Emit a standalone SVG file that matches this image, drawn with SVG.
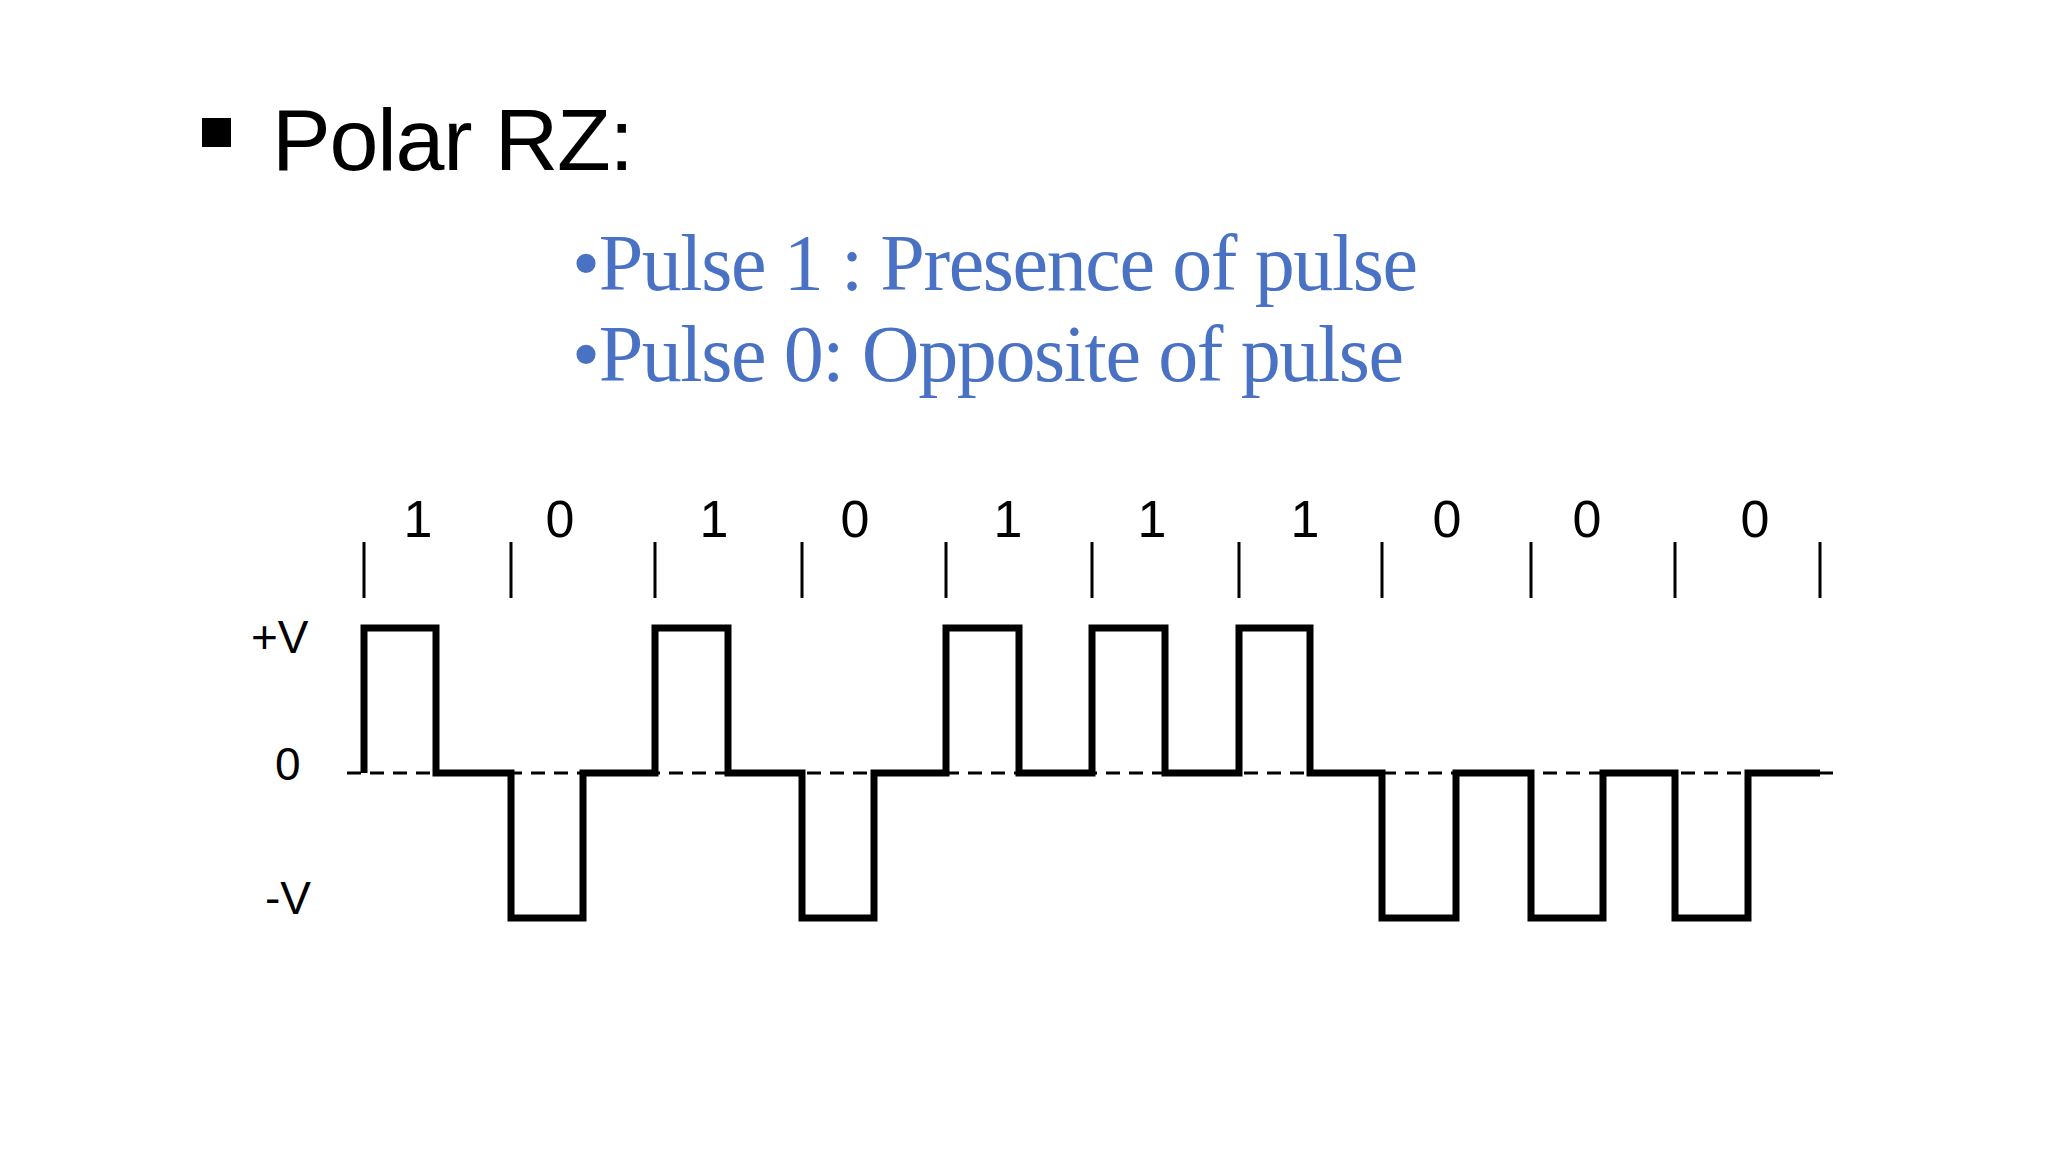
<svg xmlns="http://www.w3.org/2000/svg" width="2048" height="1152" viewBox="0 0 2048 1152">
<style>
.sig{fill:none;stroke:#000;stroke-width:7;stroke-linejoin:miter}
.tick{stroke:#000;stroke-width:3}
.lab{font-family:"Liberation Sans",Arial,sans-serif;font-size:46px;fill:#000}
.bit{font-family:"Liberation Sans",Arial,sans-serif;font-size:52px;fill:#000;text-anchor:middle}
.blue{font-family:"Liberation Serif","Times New Roman",serif;font-size:80px;fill:#4a72c4}
</style>
<rect width="2048" height="1152" fill="#fff"/>
<g id="title">
<rect x="202" y="118" width="29" height="29" fill="#000"/>
<text x="272" y="170" font-family="Liberation Sans,Arial,sans-serif" font-size="88" textLength="362">Polar RZ:</text>
</g>
<g id="bullets">
<text class="blue" x="572" y="290" textLength="846">•Pulse 1 : Presence of pulse</text>
<text class="blue" x="572" y="381" textLength="832">•Pulse 0: Opposite of pulse</text>
</g>
<g id="axis-labels">
<text class="lab" x="251" y="653">+V</text>
<text class="lab" x="275" y="780">0</text>
<text class="lab" x="265" y="914">-V</text>
</g>
<g id="bits">
<text class="bit" x="418" y="537">1</text><text class="bit" x="560" y="537">0</text>
<text class="bit" x="714" y="537">1</text><text class="bit" x="855" y="537">0</text>
<text class="bit" x="1008" y="537">1</text><text class="bit" x="1152" y="537">1</text>
<text class="bit" x="1305" y="537">1</text><text class="bit" x="1447" y="537">0</text>
<text class="bit" x="1587" y="537">0</text><text class="bit" x="1755" y="537">0</text>
</g>
<g id="ticks">
<line class="tick" x1="364" y1="542" x2="364" y2="598"/><line class="tick" x1="511" y1="542" x2="511" y2="598"/>
<line class="tick" x1="655" y1="542" x2="655" y2="598"/><line class="tick" x1="802" y1="542" x2="802" y2="598"/>
<line class="tick" x1="946" y1="542" x2="946" y2="598"/><line class="tick" x1="1092" y1="542" x2="1092" y2="598"/>
<line class="tick" x1="1239" y1="542" x2="1239" y2="598"/><line class="tick" x1="1382" y1="542" x2="1382" y2="598"/>
<line class="tick" x1="1531" y1="542" x2="1531" y2="598"/><line class="tick" x1="1675" y1="542" x2="1675" y2="598"/>
<line class="tick" x1="1820" y1="542" x2="1820" y2="598"/>
</g>
<g id="connectors">
<line x1="347" y1="773" x2="1837" y2="773" stroke="#000" stroke-width="3" stroke-dasharray="14,9"/>
<path class="sig" d="M364 773 V628 H436 V773 H511 V918 H583 V773 H655 V628 H728 V773 H802 V918 H874 V773 H946 V628 H1019 V773 H1092 V628 H1165 V773 H1239 V628 H1310 V773 H1382 V918 H1456 V773 H1531 V918 H1603 V773 H1675 V918 H1748 V773 H1820"/>
</g>
</svg>
